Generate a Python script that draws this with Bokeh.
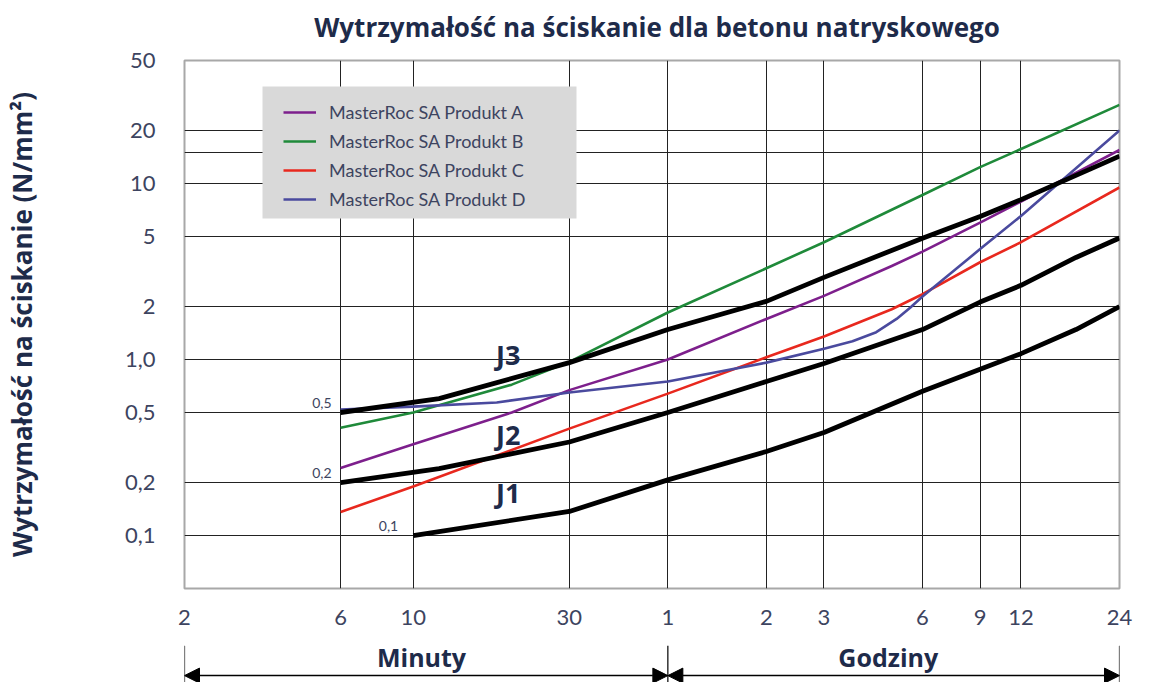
from bokeh.plotting import figure
from bokeh.models import (Range1d, FixedTicker, Label, Legend, LegendItem, Arrow, NormalHead,
                          BoxAnnotation)
from bokeh.layouts import column
from bokeh.embed import file_html
from bokeh.resources import INLINE

FONT = "Lato"
BOLD_FONT = "Open Sans"
NAVY = "#1e2b4a"
TICK = "#3d4460"

# ---- axis ticks (x in minutes, y in N/mm2) ----
x_ticks = [2, 6, 10, 30, 60, 120, 180, 360, 540, 720, 1440]
x_tick_labels = ["2", "6", "10", "30", "1", "2", "3", "6", "9", "12", "24"]
y_ticks = [0.1, 0.2, 0.5, 1, 2, 5, 10, 20, 50]
y_tick_labels = ["0,1", "0,2", "0,5", "1,0", "2", "5", "10", "20", "50"]
x_grid = [6, 10, 30, 60, 120, 180, 360, 540, 720]
y_grid = [0.1, 0.2, 0.5, 1, 2, 5, 10, 15, 20]

# ---- J curves ----
j3_x = [6, 12, 30, 60, 120, 180, 360, 540, 720, 1440]
j3_y = [0.5, 0.6, 0.96, 1.48, 2.14, 2.93, 4.89, 6.5, 8.1, 14.3]
j2_x = [6, 12, 30, 60, 120, 180, 360, 540, 720, 1060, 1440]
j2_y = [0.2, 0.24, 0.34, 0.5, 0.75, 0.95, 1.48, 2.12, 2.64, 3.8, 4.9]
j1_x = [10, 30, 60, 120, 180, 360, 540, 720, 1060, 1440]
j1_y = [0.1, 0.137, 0.207, 0.30, 0.385, 0.66, 0.88, 1.08, 1.48, 2.0]

# ---- products ----
a_x = [6, 10, 20, 30, 60, 120, 180, 290, 360, 540, 720, 1440]
a_y = [0.242, 0.33, 0.5, 0.67, 1.0, 1.7, 2.3, 3.4, 4.1, 6.0, 7.9, 15.5]
b_x = [6, 10, 20, 30, 60, 120, 180, 360, 540, 720, 1440]
b_y = [0.41, 0.5, 0.72, 0.97, 1.85, 3.3, 4.64, 8.6, 12.4, 15.7, 28]
c_x = [6, 10, 30, 60, 120, 180, 290, 360, 540, 720, 1440]
c_y = [0.136, 0.19, 0.405, 0.64, 1.03, 1.35, 1.93, 2.35, 3.57, 4.64, 9.5]
d_x = [6, 10, 18, 30, 60, 120, 180, 220, 260, 300, 330, 360, 540, 720, 1440]
d_y = [0.52, 0.54, 0.57, 0.65, 0.75, 0.96, 1.15, 1.27, 1.43, 1.70, 1.97, 2.28, 4.24, 6.54, 20]

products = ["MasterRoc SA Produkt A", "MasterRoc SA Produkt B",
            "MasterRoc SA Produkt C", "MasterRoc SA Produkt D"]
product_colors = ["#7d1f8c", "#1f8a3a", "#e8281e", "#4a4a9e"]

j_names = ["J3", "J2", "J1"]
j_name_pos_x = [19.5, 19.5, 19.5]
j_name_pos_y = [1.07, 0.374, 0.175]
j_start_labels = ["0,5", "0,2", "0,1"]
j_end_labels = ["15,0", "5,0", "2,0"]

period_names = ["Minuty", "Godziny"]
period_bounds = [(2, 60), (60, 1440)]
period_label_x = [10.6, 283]

title_text = "Wytrzymałość na ściskanie dla betonu natryskowego"
y_title = "Wytrzymałość na ściskanie (N/mm²)"

W = 1146
BL, BR = 183, 27

# ---- title band ----
t = figure(width=W, height=46, x_range=Range1d(0, 1), y_range=Range1d(0, 1),
           output_backend="svg", toolbar_location=None,
           x_axis_location=None, y_axis_location=None,
           min_border_left=BL, min_border_right=BR, min_border_top=0, min_border_bottom=0)
t.grid.visible = False
t.outline_line_color = None
t.add_layout(Label(x=0.5, y=0.42, text=title_text, text_font=BOLD_FONT, text_font_size="26px",
                   text_font_style="bold", text_color=NAVY, x_offset=5,
                   text_align="center", text_baseline="middle"))

# ---- main chart ----
p = figure(width=W, height=590, x_axis_type="log", y_axis_type="log",
           x_range=Range1d(2, 1440), y_range=Range1d(0.05, 50),
           output_backend="svg", toolbar_location=None,
           min_border_left=BL, min_border_right=BR, min_border_top=14, min_border_bottom=48)

for ax in (p.xaxis[0], p.yaxis[0]):
    ax.major_tick_line_color = None
    ax.minor_tick_line_color = None
    ax.axis_line_color = None
    ax.major_label_text_font = FONT
    ax.major_label_text_font_size = "22px"
    ax.major_label_text_color = TICK

p.xaxis.ticker = FixedTicker(ticks=x_ticks)
p.xaxis.major_label_overrides = {t_: l for t_, l in zip(x_ticks, x_tick_labels)}
p.xaxis.major_label_standoff = 15
p.yaxis.ticker = FixedTicker(ticks=y_ticks)
p.yaxis.major_label_overrides = {t_: l for t_, l in zip(y_ticks, y_tick_labels)}
p.yaxis.major_label_standoff = 23
p.yaxis.axis_label = y_title
p.yaxis.axis_label_text_font = BOLD_FONT
p.yaxis.axis_label_text_font_style = "bold"
p.yaxis.axis_label_text_font_size = "26px"
p.yaxis.axis_label_text_color = NAVY
p.yaxis.axis_label_standoff = 82

p.xgrid.ticker = FixedTicker(ticks=x_grid)
p.ygrid.ticker = FixedTicker(ticks=y_grid)
p.grid.grid_line_color = "#222222"
p.grid.grid_line_width = 1
p.grid.minor_grid_line_color = None
p.outline_line_color = "#a8a8a8"
p.outline_line_width = 2

# product curves
items = []
for name, col, xs, ys in zip(products, product_colors, [a_x, b_x, c_x, d_x], [a_y, b_y, c_y, d_y]):
    r = p.line(xs, ys, line_color=col, line_width=2.6, line_join="round")
    items.append(LegendItem(label=name, renderers=[r]))

# J curves
for xs, ys in [(j3_x, j3_y), (j2_x, j2_y), (j1_x, j1_y)]:
    p.line(xs, ys, line_color="black", line_width=4.8, line_join="round")

for name, lx, ly in zip(j_names, j_name_pos_x, j_name_pos_y):
    p.add_layout(Label(x=lx, y=ly, text=name, text_font=BOLD_FONT, text_font_size="27px",
                       text_font_style="bold", text_color=NAVY,
                       text_align="center", text_baseline="middle"))

for lab, xs, ys, dx in zip(j_start_labels, [j3_x, j2_x, j1_x], [j3_y, j2_y, j1_y], [-9, -9, -15]):
    p.add_layout(Label(x=xs[0], y=ys[0], text=lab, text_font=FONT, text_font_size="14px",
                       text_color=TICK, text_align="right", text_baseline="middle",
                       x_offset=dx, y_offset=10))

for lab, xs, ys in zip(j_end_labels, [j3_x, j2_x, j1_x], [j3_y, j2_y, j1_y]):
    p.add_layout(Label(x=xs[-1], y=ys[-1], text=lab, text_font=FONT, text_font_size="12px",
                       text_color=TICK, text_align="left", text_baseline="middle",
                       x_offset=3))

# legend panel (grey box) and legend entries
p.add_layout(BoxAnnotation(left=78, right=392, bottom=370, top=502,
                           left_units="screen", right_units="screen",
                           bottom_units="screen", top_units="screen",
                           fill_color="#d9d9d9", fill_alpha=1.0, line_color=None))
legend = Legend(items=items, location=(99, 378),
                background_fill_alpha=0.0,
                border_line_color=None, padding=0, spacing=7, margin=0,
                label_height=20, glyph_height=20, glyph_width=33,
                label_standoff=13, label_width=200,
                label_text_font=FONT, label_text_font_size="18px", label_text_color=TICK)
p.add_layout(legend)

# ---- lower band with the Minuty / Godziny arrows ----
q = figure(width=W, height=46, x_axis_type="log", x_range=p.x_range, y_range=Range1d(0, 1),
           output_backend="svg", toolbar_location=None,
           x_axis_location=None, y_axis_location=None,
           min_border_left=BL, min_border_right=BR, min_border_top=0, min_border_bottom=0)
q.grid.visible = False
q.outline_line_color = None

edges = sorted(set([b for pair in period_bounds for b in pair]))
q.segment(x0=edges, y0=[0] * len(edges), x1=edges, y1=[0.8] * len(edges),
          line_color="black", line_width=1.2)
for (s, e), name, lx in zip(period_bounds, period_names, period_label_x):
    q.add_layout(Arrow(start=NormalHead(size=15, fill_color="black", line_color="black"),
                       end=NormalHead(size=15, fill_color="black", line_color="black"),
                       x_start=s, y_start=0.15, x_end=e, y_end=0.15,
                       line_color="black", line_width=1.5))
    q.add_layout(Label(x=lx, y=0.56, text=name, text_font=BOLD_FONT, text_font_size="25px",
                       text_font_style="bold", text_color=NAVY,
                       text_align="center", text_baseline="middle"))

layout = column(t, p, q, spacing=0)
open("out.html", "w").write(file_html(layout, INLINE))
